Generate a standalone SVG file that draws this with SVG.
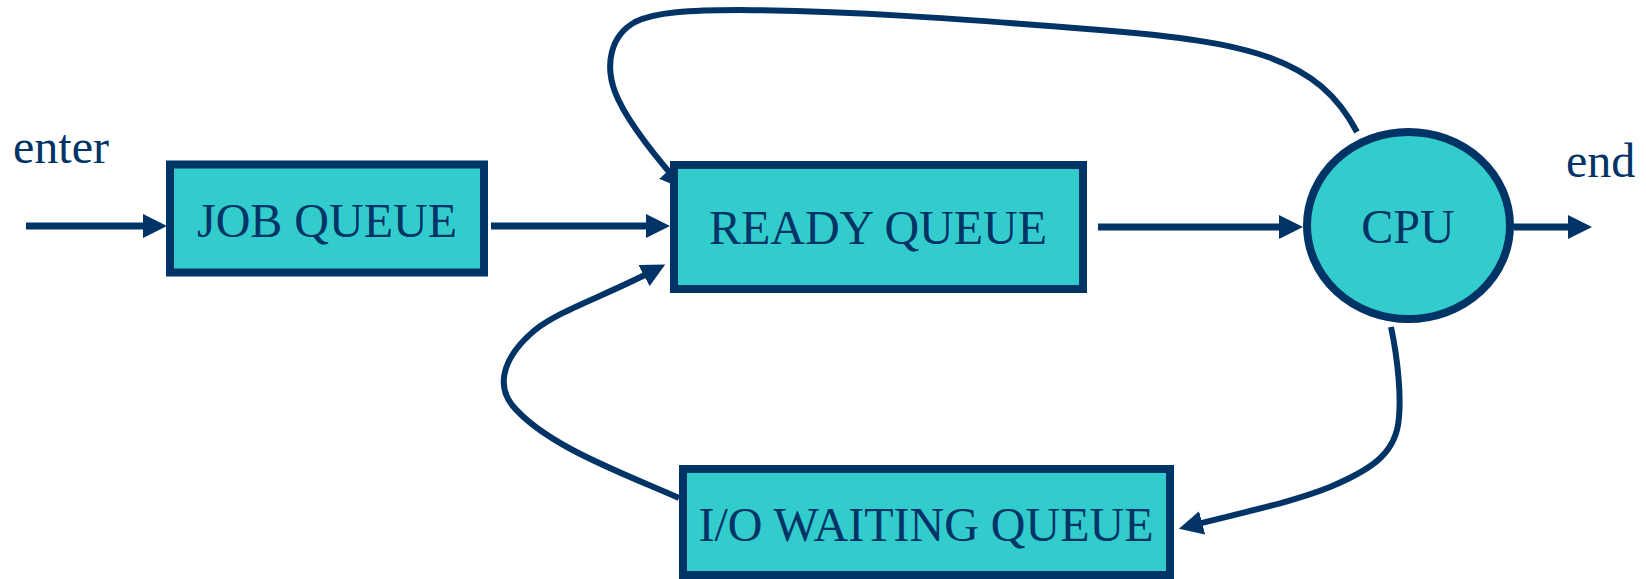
<svg xmlns="http://www.w3.org/2000/svg" width="1646" height="579" viewBox="0 0 1646 579">
  <style>
    .node { fill: #33CCCC; stroke: #003366; stroke-width: 8; }
    .label { font-family: "Liberation Serif", "Times New Roman", serif; font-size: 48px; fill: #003366; }
    .mid { text-anchor: middle; }
    .line { fill: none; stroke: #003366; stroke-width: 7; marker-end: url(#arrow); }
    .curve { fill: none; stroke: #003366; stroke-width: 6; marker-end: url(#arrow); }
  </style>
  <defs>
    <marker id="arrow" markerUnits="userSpaceOnUse" markerWidth="24" markerHeight="24" refX="12" refY="12" orient="auto">
      <path d="M0,0 L24,12 L0,24 z" fill="#003366"/>
    </marker>
  </defs>
  <rect width="1646" height="579" fill="#FFFFFF"/>
  <g id="connectors">
    <path class="line" d="M26,226 L155,226"/>
    <path class="line" d="M491,226 L658,226"/>
    <path class="line" d="M1098,227 L1291,227"/>
    <path class="line" d="M1514,227 L1580,227"/>
    <path class="curve" d="M1357,132 C1318,58 1250,42 1100,30 C950,18 850,11 740,10 C690,10 655,12 635,22 C610,36 605,65 615,92 C625,118 650,150 676,180"/>
    <path class="curve" d="M679,498 C620,472 545,445 512,405 C495,383 505,355 535,330 C560,310 605,296 654.6,270"/>
    <path class="curve" d="M1391,327 C1398,360 1402,400 1398,425 C1393,455 1370,470 1330,487 C1290,503 1240,513 1190.5,525.8"/>
    <text class="label" x="13" y="163">enter</text>
    <text class="label" x="1566" y="177">end</text>
  </g>
  <g id="job-queue">
    <rect class="node" x="170" y="164.5" width="314" height="108"/>
    <text class="label mid" x="327" y="237">JOB QUEUE</text>
  </g>
  <g id="ready-queue">
    <rect class="node" x="674" y="165" width="409" height="124"/>
    <text class="label mid" x="878" y="244">READY QUEUE</text>
  </g>
  <g id="cpu">
    <ellipse class="node" cx="1408.5" cy="225.5" rx="101.5" ry="93.5"/>
    <text class="label mid" x="1408" y="243">CPU</text>
  </g>
  <g id="io-waiting-queue">
    <rect class="node" x="683" y="469" width="487" height="106"/>
    <text class="label mid" x="926" y="541">I/O WAITING QUEUE</text>
  </g>
</svg>
